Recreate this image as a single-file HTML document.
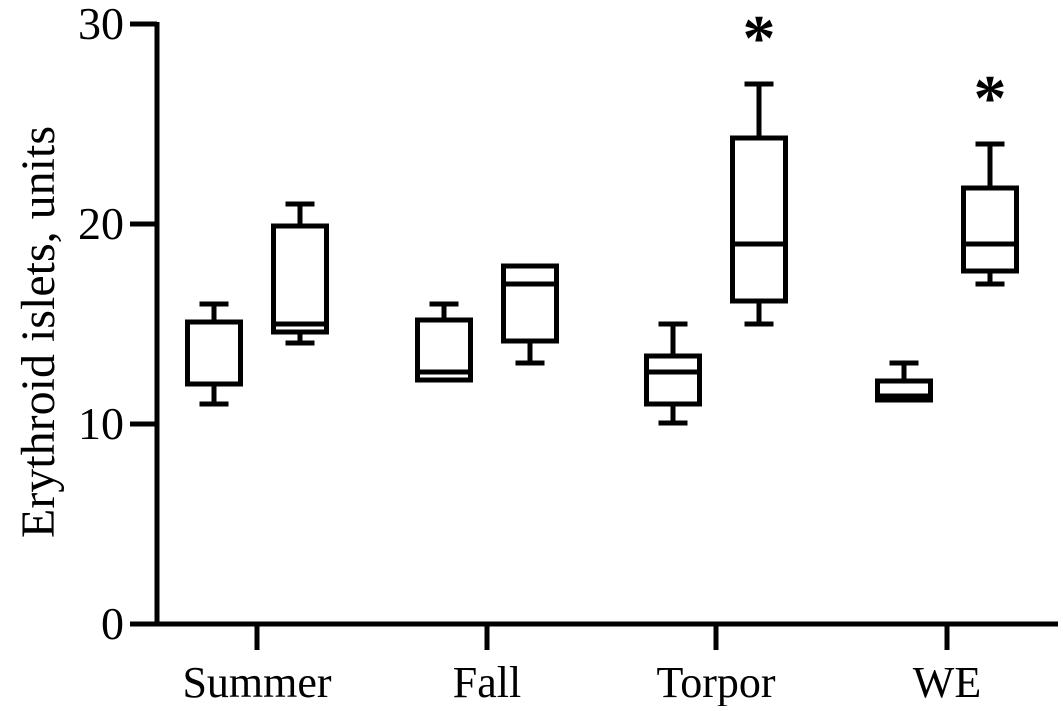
<!DOCTYPE html>
<html><head><meta charset="utf-8"><style>
html,body{margin:0;padding:0;background:#fff;}
svg text{font-family:"Liberation Serif",serif;fill:#000;}
</style></head><body>
<svg id="chart" width="1063" height="706" viewBox="0 0 1063 706">
<g id="axes"></g>
<g id="boxes"></g>
</svg>
<script>
const categories = ["Summer","Fall","Torpor","WE"];
const yTicks = [0,10,20,30];
const whiskerLow  = [11, 14.05, 12.2, 13.05, 10.05, 15, 11.2, 17];
const q1          = [12, 14.6, 12.2, 14.15, 11.0, 16.15, 11.2, 17.65];
const medians     = [12, 15, 12.6, 17, 12.6, 19, 11.4, 19];
const q3          = [15.1, 19.9, 15.2, 17.9, 13.4, 24.3, 12.15, 21.8];
const whiskerHigh = [16, 21, 16, 17.9, 15, 27, 13.05, 24];
const significant = [false,false,false,false,false,true,false,true];

const NS="http://www.w3.org/2000/svg";
const x0=157, x1=1058, y0=624, yTop=24, yMax=30;
const catX=[257,487,716,947];
const boxOff=[-43,43];
const y = v => y0 - v*(y0-yTop)/yMax;
function mk(tag, attrs, parent){const e=document.createElementNS(NS,tag);for(const k in attrs)e.setAttribute(k,attrs[k]);parent.appendChild(e);return e;}
const axes=document.getElementById('axes'), boxes=document.getElementById('boxes');
const st={stroke:"#000","stroke-width":5,fill:"none"};

let e=mk('line',Object.assign({x1:x0,y1:yTop-2,x2:x0,y2:y0+2},st),axes);


e=mk('line',Object.assign({x1:x0-2,y1:y0,x2:x1,y2:y0},st),axes);



yTicks.forEach(t=>{
  let l=mk('line',Object.assign({x1:x0-27,y1:y(t),x2:x0,y2:y(t)},st),axes);
  
  
  let tx=mk('text',{x:x0-33,y:y(t)+15,"text-anchor":"end","font-size":46},axes);
  tx.textContent=t;
  
  
});
categories.forEach((c,i)=>{
  let l=mk('line',Object.assign({x1:catX[i],y1:y0,x2:catX[i],y2:y0+26},st),axes);
  
  
  let tx=mk('text',{x:catX[i],y:697,"text-anchor":"middle","font-size":44},axes);
  tx.textContent=c;
  
  
});
let yt=mk('text',{x:0,y:0,"text-anchor":"middle","font-size":48,transform:"translate(54,332) rotate(-90)"},axes);
yt.textContent="Erythroid islets, units";



medians.forEach((m,i)=>{
  const cx=catX[Math.floor(i/2)]+boxOff[i%2];
  const g=mk('g',{},boxes);
  
  
  mk('line',Object.assign({x1:cx,y1:y(whiskerHigh[i]),x2:cx,y2:y(q3[i])},st),g);
  mk('line',Object.assign({x1:cx,y1:y(whiskerLow[i]),x2:cx,y2:y(q1[i])},st),g);
  mk('line',Object.assign({x1:cx-14.5,y1:y(whiskerHigh[i]),x2:cx+14.5,y2:y(whiskerHigh[i])},st),g);
  mk('line',Object.assign({x1:cx-14.5,y1:y(whiskerLow[i]),x2:cx+14.5,y2:y(whiskerLow[i])},st),g);
  mk('rect',Object.assign({x:cx-26.5,y:y(q3[i]),width:53,height:y(q1[i])-y(q3[i]),fill:"#fff"},{stroke:"#000","stroke-width":5}),g);
  mk('line',Object.assign({x1:cx-26,y1:y(m),x2:cx+26,y2:y(m)},st),g);
  if(significant[i]){
    const s=mk('text',{x:cx,y:y(whiskerHigh[i])-24,"text-anchor":"middle","font-size":66,"font-weight":"bold","font-family":"Liberation Sans, sans-serif"},g);
    s.textContent="*";
    
    
  }
});
</script>
</body></html>
